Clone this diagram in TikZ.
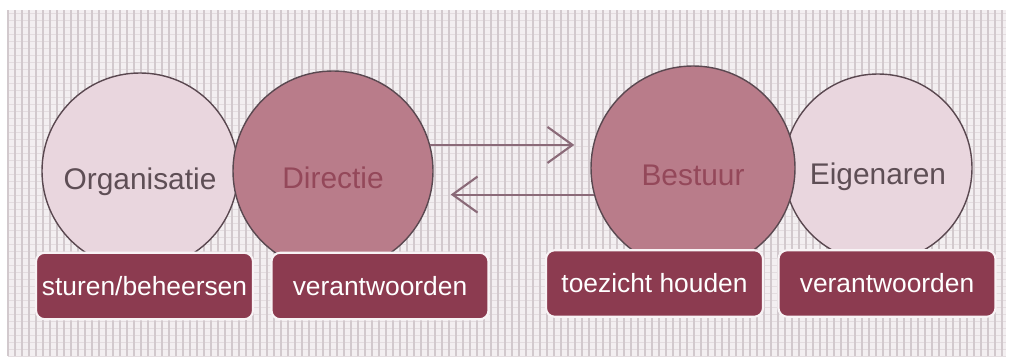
\documentclass[tikz,border=0pt]{standalone}
\usepackage{fontspec}
\setmainfont{Liberation Sans}
\usepackage{xcolor}
\usetikzlibrary{arrows.meta, positioning}

\definecolor{gridbg}{HTML}{F3EFF1}
\definecolor{gridln}{HTML}{D2C9CD}
\definecolor{gridlnh}{HTML}{E4DDE0}
\definecolor{lightrose}{HTML}{E9D6DE}
\definecolor{darkrose}{HTML}{B97C8A}
\definecolor{boxred}{HTML}{8C3B50}
\definecolor{rosetext}{HTML}{94485A}
\definecolor{greytext}{HTML}{5E4E55}
\definecolor{rimgrey}{HTML}{5A4850}
\definecolor{arrowgrey}{HTML}{8A6A78}

\newcommand{\lowtext}[2]{\raisebox{-#1}[\height][\depth]{#2}}

\begin{document}
\begin{tikzpicture}
\tikzstyle{lightcirc} = [circle, draw=rimgrey, line width=0.8pt, fill=lightrose, text=greytext, font=\fontsize{17}{20}\selectfont]
\tikzstyle{darkcirc} = [circle, draw=rimgrey, line width=0.8pt, fill=darkrose, text=rosetext, font=\fontsize{17}{20}\selectfont]
\tikzstyle{task} = [rectangle, rounded corners=5pt, fill=boxred, draw=white!70!lightrose, line width=1.2pt, text=white, minimum width=4.34cm, minimum height=1.33cm, font=\fontsize{15}{18}\selectfont]
\tikzstyle{line} = [draw=arrowgrey, line width=1.2pt, -{Straight Barb[length=0.5cm, width=0.72cm, line width=1.2pt]}]

% background
\useasboundingbox (0,0) rectangle (20.24,7.18);
\fill [white] (0,0) rectangle (20.24,7.18);
\fill [gridbg] (0.16,0.06) rectangle (20.12,6.98);
\foreach \y in {0,...,49}
  \draw [gridlnh, line width=0.5pt] (0.16,0.06+0.14*\y) -- (20.12,0.06+0.14*\y);
\foreach \x in {0,...,142}
  \draw [gridln, line width=0.6pt] (0.16+0.14*\x,0.06) -- (0.16+0.14*\x,6.98);

\node [lightcirc, minimum size=3.92cm] (org) at (2.80,3.76) {\lowtext{0.22cm}{Organisatie}};
\node [darkcirc, minimum size=4.0cm, right of=org, node distance=3.86cm] (dir) {\lowtext{0.14cm}{Directie}};
\node [lightcirc, minimum size=3.76cm] (eig) at (17.56,3.82) {\lowtext{0.18cm}{Eigenaren}};
\node [darkcirc, minimum size=4.08cm, left of=eig, node distance=3.7cm] (bes) {\lowtext{0.14cm}{Bestuur}};

\node [task] (stu) at (2.89,1.46) {sturen/beheersen};
\node [task, right of=stu, node distance=4.71cm] (ver1) {verantwoorden};
\node [task] (toe) at (13.09,1.51) {toezicht houden};
\node [task, right of=toe, node distance=4.65cm] (ver2) {verantwoorden};

\draw [line, shorten >=0.32cm] (dir.15) -- (bes.west |- dir.15);
\draw [line, shorten >=0.34cm] (bes.195) -- (dir.east |- bes.195);
\end{tikzpicture}
\end{document}
